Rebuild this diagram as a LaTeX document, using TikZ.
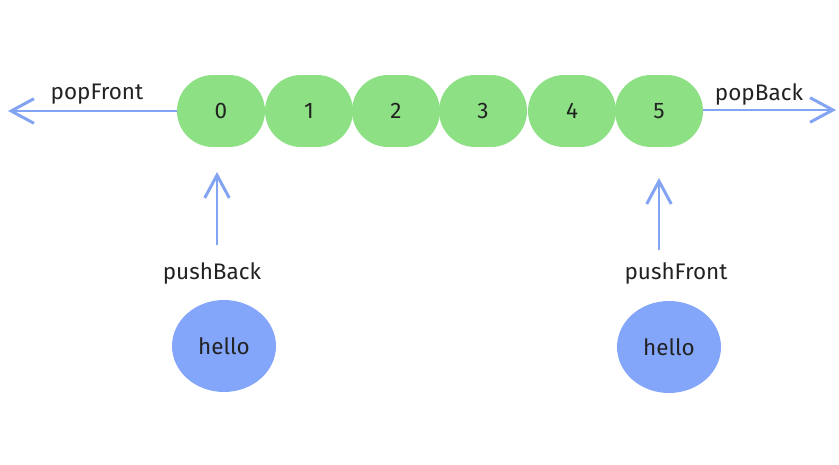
\documentclass[tikz,border=0pt]{standalone}
\usepackage{fontspec}
\setmainfont{Fira Sans}
\usetikzlibrary{arrows.meta,shapes.geometric}
\definecolor{cellgreen}{HTML}{8EE084}
\definecolor{helloblue}{HTML}{84A6FA}
\definecolor{arrowblue}{HTML}{82A4F2}
\definecolor{textdark}{HTML}{222222}

\begin{document}
\begin{tikzpicture}[x=0.02cm,y=-0.02cm,
        font=\fontsize{12.8}{15}\selectfont,
        cell/.style={fill=cellgreen,rounded corners=0.72cm,minimum width=1.76cm,minimum height=1.44cm,inner sep=0pt,text=textdark},
        hello/.style={ellipse,fill=helloblue,minimum width=2.08cm,minimum height=1.84cm,inner sep=0pt,text=textdark},
        op/.style={text=textdark,inner sep=0pt},
        link/.style={arrowblue,line width=1.7pt,-{Straight Barb[length=13pt,width=14pt]}}]
        \useasboundingbox (0,0) rectangle (839,465);
        % the deque cells
        \foreach \i/\x in {0/221,1/309,2/396,3/483,4/572,5/659}{
            \node [cell] (c\i) at (\x,111) {\i};
        }
        % pop ends
        \coordinate (popfront) at (8,111);
        \coordinate (popback) at (836,110);
        \draw [link] (c0) -- (popfront);
        \draw [link] (c5.east |- popback) -- (popback);
        \node [op] (popfrontlabel) at (97,94) {popFront};
        \node [op] (popbacklabel) at (759,94) {popBack};
        % push ends
        \node [op] (pushbacklabel) at (212,273) {pushBack};
        \node [op] (pushfrontlabel) at (676,273) {pushFront};
        \node [hello] (hello1) at (224,346) {hello};
        \node [hello] (hello2) at (669,347) {hello};
        \coordinate (pbtail) at (217,245);
        \coordinate (pbhead) at (217,172);
        \coordinate (pftail) at (659,250);
        \coordinate (pfhead) at (659,178);
        \draw [link] (pbtail) -- (pbhead);
        \draw [link] (pftail) -- (pfhead);
    \end{tikzpicture}
\end{document}
